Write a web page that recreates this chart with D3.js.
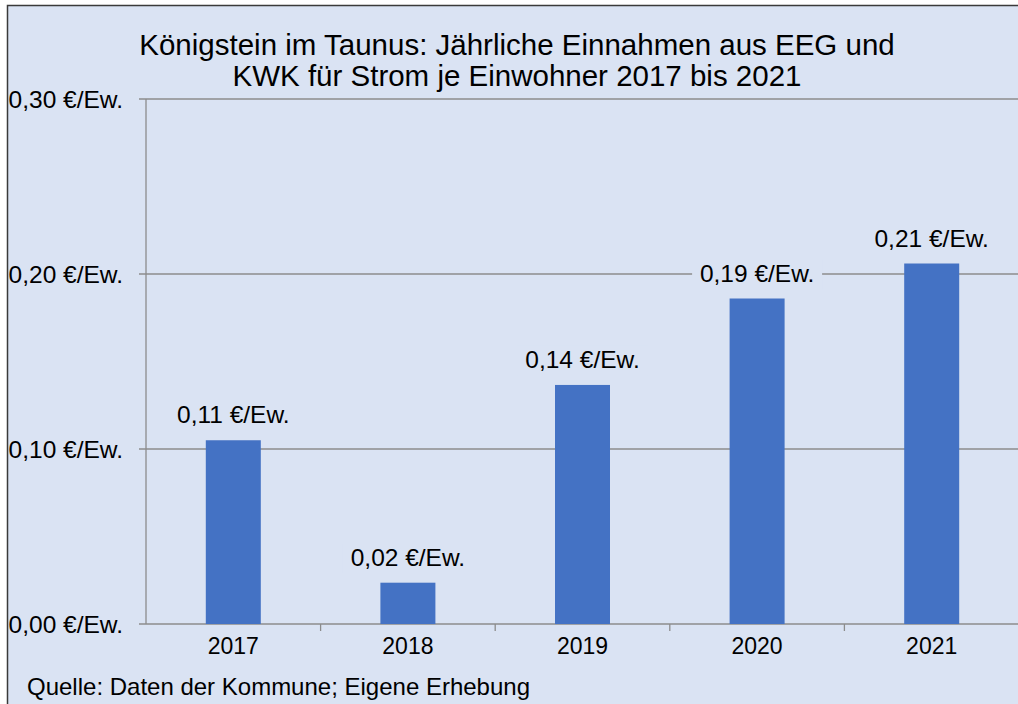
<!DOCTYPE html>
<html><head><meta charset="utf-8">
<script src="https://cdn.jsdelivr.net/npm/d3@7"></script>
<style>body{margin:0;background:#fff}svg{display:block;font-family:"Liberation Sans",Arial,sans-serif}</style>
</head><body><svg id="c" width="1018" height="704"></svg>
<script>
const categories = ["2017","2018","2019","2020","2021"];
const values = [0.105, 0.0236, 0.1366, 0.186, 0.206];
const labels = ["0,11 €/Ew.","0,02 €/Ew.","0,14 €/Ew.","0,19 €/Ew.","0,21 €/Ew."];
const yTicks = [0, 0.1, 0.2, 0.3];
const yTickLabels = ["0,00 €/Ew.","0,10 €/Ew.","0,20 €/Ew.","0,30 €/Ew."];
const titleLines = ["Königstein im Taunus: Jährliche Einnahmen aus EEG und","KWK für Strom je Einwohner 2017 bis 2021"];
const source = "Quelle: Daten der Kommune; Eigene Erhebung";

(function(){
const svg = d3.select("#c");
const bg = "#dae3f3";
svg.append("rect").attr("x",7.5).attr("y",5.5).attr("width",1030).attr("height",720)
  .attr("fill",bg).attr("stroke","#3a3a3a").attr("stroke-width",1.5);

const pl=146, pr=1019, pt=99, pb=624;
const x = d3.scaleBand().domain(categories).range([pl,pr]).paddingInner(0).paddingOuter(0);
const y = d3.scaleLinear().domain([0,0.3]).range([pb,pt]);
const grid="#8c8c8c";

svg.append("g").selectAll("line").data(yTicks.slice(1)).join("line")
  .attr("x1",pl-7).attr("x2",pr).attr("y1",d=>y(d)).attr("y2",d=>y(d))
  .attr("stroke",grid).attr("stroke-width",1.3);
svg.append("line").attr("x1",pl).attr("x2",pl).attr("y1",pt).attr("y2",pb).attr("stroke",grid).attr("stroke-width",1.3);
svg.append("line").attr("x1",pl-7).attr("x2",pr).attr("y1",pb).attr("y2",pb).attr("stroke",grid).attr("stroke-width",1.3);
const bw = x.bandwidth();
svg.append("g").selectAll("line").data(categories.slice(1)).join("line")
  .attr("x1",d=>x(d)).attr("x2",d=>x(d)).attr("y1",pb).attr("y2",pb+7).attr("stroke",grid).attr("stroke-width",1.3);

svg.append("g").selectAll("text").data(yTicks).join("text")
  .attr("x",123).attr("y",d=>y(d)+9).attr("text-anchor","end")
  .attr("font-size",24.5).attr("fill","#000").text((d,i)=>yTickLabels[i]);

const barW=55;
svg.append("g").selectAll("rect").data(values).join("rect")
  .attr("x",(d,i)=>x(categories[i])+bw/2-barW/2).attr("width",barW)
  .attr("y",d=>y(d)).attr("height",d=>pb-y(d)).attr("fill","#4472c4");

const lg = svg.append("g").selectAll("g").data(values).join("g")
  .attr("transform",(d,i)=>`translate(${x(categories[i])+bw/2},${y(d)-17})`);
lg.append("rect").attr("x",-65).attr("y",-22).attr("width",130).attr("height",30).attr("fill",bg);
lg.append("text").attr("text-anchor","middle").attr("font-size",24.5).attr("fill","#000").text((d,i)=>labels[i]);

svg.append("g").selectAll("text").data(categories).join("text")
  .attr("x",d=>x(d)+bw/2).attr("y",654).attr("text-anchor","middle").attr("font-size",23).text(d=>d);

svg.append("g").selectAll("text").data(titleLines).join("text")
  .attr("x",517).attr("y",(d,i)=>55+i*31).attr("text-anchor","middle").attr("font-size",29.5).text(d=>d);

svg.append("text").attr("x",27).attr("y",695).attr("font-size",24).text(source);
})();
</script></body></html>
